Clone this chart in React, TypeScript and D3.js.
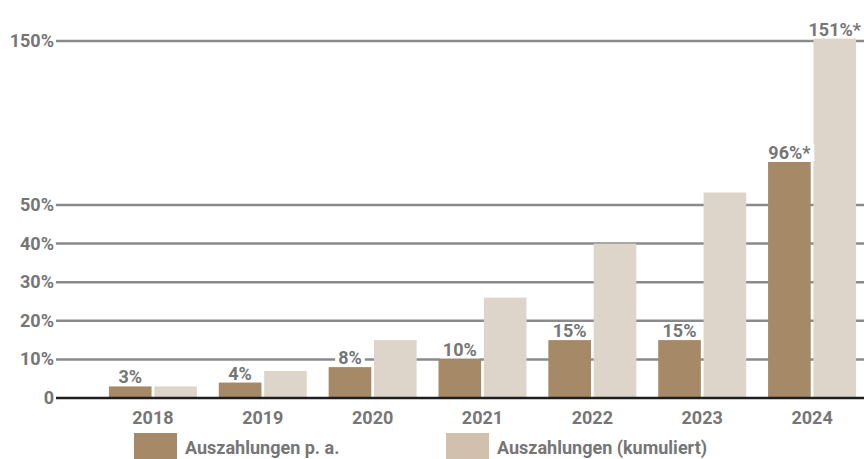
import React, { useEffect, useRef } from "react";
import * as d3 from "d3";

const years = ["2018", "2019", "2020", "2021", "2022", "2023", "2024"];
const perYear = [3, 4, 8, 10, 15, 15, 96];
const cumulative = [3, 7, 15, 26, 40, 55, 151];
const perYearLabels = ["3%", "4%", "8%", "10%", "15%", "15%", "96%*"];
const cumulativeLabels = ["", "", "", "", "", "", "151%*"];
const yTicks = [0, 10, 20, 30, 40, 50, 150];
const seriesNames = ["Auszahlungen p. a.", "Auszahlungen (kumuliert)"];

const DARK = "#a68966";
const LIGHT = "#ddd5ca";
const LEGEND_LIGHT = "#d2c0ae";
const TEXT = "#767676";
const FONT = "Roboto, 'Noto Sans', sans-serif";
const FS = 18;

const App: React.FC = () => {
  const svgRef = useRef<SVGSVGElement>(null);

  useEffect(() => {
    const svg = d3.select(svgRef.current);
    svg.selectAll("*").remove();

    const width = 864;
    const left = 56;

    // gebrochene Achse: 0-50 linear, darüber gestaucht
    const y = d3
      .scaleLinear()
      .domain([0, 50, 60, 100, 150])
      .range([398, 205, 180, 160, 41]);

    const x0 = d3.scaleBand().domain(years).range([98, 867]).padding(0);
    const x1 = d3
      .scaleBand()
      .domain(["pa", "kum"])
      .range([x0.bandwidth() / 2 - 44, x0.bandwidth() / 2 + 44])
      .paddingInner(0.06);

    // Gitterlinien
    const grid = svg.append("g");
    yTicks
      .filter((t) => t > 0)
      .forEach((t) => {
        grid
          .append("line")
          .attr("x1", left)
          .attr("x2", width)
          .attr("y1", y(t))
          .attr("y2", y(t))
          .attr("stroke", "#8a8a8a")
          .attr("stroke-width", 2.5);
      });

    // Achsenbeschriftung
    svg
      .append("g")
      .selectAll("text")
      .data(yTicks)
      .join("text")
      .attr("x", 54)
      .attr("y", (d) => y(d) + 6)
      .attr("text-anchor", "end")
      .attr("font-family", FONT)
      .attr("font-weight", 700)
      .attr("font-size", FS)
      .attr("fill", TEXT)
      .text((d) => (d === 0 ? "0" : `${d}%`));

    // Balken
    const bars = svg.append("g");
    years.forEach((yr, i) => {
      const gx = x0(yr) ?? 0;
      bars
        .append("rect")
        .attr("x", gx + (x1("pa") ?? 0))
        .attr("y", y(perYear[i]))
        .attr("width", x1.bandwidth())
        .attr("height", y(0) - y(perYear[i]))
        .attr("fill", DARK);
      bars
        .append("rect")
        .attr("x", gx + (x1("kum") ?? 0))
        .attr("y", y(cumulative[i]))
        .attr("width", x1.bandwidth())
        .attr("height", y(0) - y(cumulative[i]))
        .attr("fill", LIGHT);
    });

    // Nulllinie
    svg
      .append("line")
      .attr("x1", left)
      .attr("x2", width)
      .attr("y1", y(0))
      .attr("y2", y(0))
      .attr("stroke", "#1e1e1e")
      .attr("stroke-width", 2.5);

    // Wertelabels mit weißem Hintergrund
    const labels = svg.append("g");
    const addLabel = (cx: number, top: number, txt: string) => {
      if (!txt) return;
      const g = labels.append("g");
      const bg = g.append("rect").attr("fill", "#fff");
      const t = g
        .append("text")
        .attr("x", cx)
        .attr("y", top - 3)
        .attr("text-anchor", "middle")
        .attr("font-family", FONT)
        .attr("font-weight", 700)
        .attr("font-size", FS)
        .attr("fill", TEXT)
        .text(txt);
      const bb = (t.node() as SVGTextElement).getBBox();
      bg.attr("x", bb.x - 3)
        .attr("y", bb.y + 2)
        .attr("width", bb.width + 6)
        .attr("height", bb.height - 4);
    };
    years.forEach((yr, i) => {
      const gx = x0(yr) ?? 0;
      addLabel(gx + (x1("pa") ?? 0) + x1.bandwidth() / 2, y(perYear[i]), perYearLabels[i]);
      addLabel(gx + (x1("kum") ?? 0) + x1.bandwidth() / 2, y(cumulative[i]), cumulativeLabels[i]);
    });

    // Jahreszahlen
    svg
      .append("g")
      .selectAll("text")
      .data(years)
      .join("text")
      .attr("x", (d) => (x0(d) ?? 0) + x0.bandwidth() / 2)
      .attr("y", 424)
      .attr("text-anchor", "middle")
      .attr("font-family", FONT)
      .attr("font-weight", 700)
      .attr("font-size", FS)
      .attr("fill", TEXT)
      .text((d) => d);

    // Legende
    const legendX = [134, 446];
    const legendFill = [DARK, LEGEND_LIGHT];
    seriesNames.forEach((name, i) => {
      svg
        .append("rect")
        .attr("x", legendX[i])
        .attr("y", 433)
        .attr("width", 43)
        .attr("height", 26)
        .attr("fill", legendFill[i]);
      svg
        .append("text")
        .attr("x", legendX[i] + 51)
        .attr("y", 454)
        .attr("font-family", FONT)
        .attr("font-weight", 700)
        .attr("font-size", FS)
        .attr("fill", TEXT)
        .text(name);
    });
  });

  return (
    <svg
      ref={svgRef}
      width={864}
      height={459}
      style={{ position: "absolute", left: 0, top: 0, background: "#fff" }}
    ></svg>
  );
};

export default App;
